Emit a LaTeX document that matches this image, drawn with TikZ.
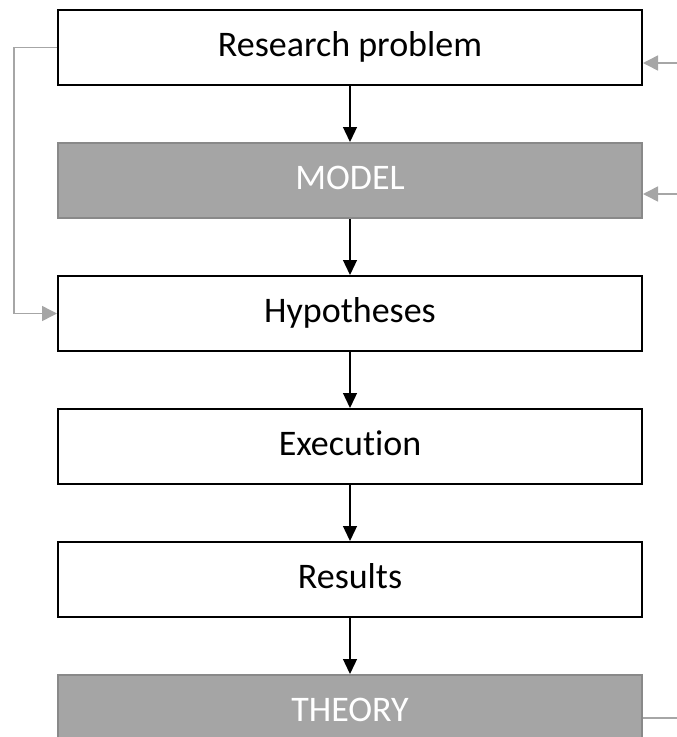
\documentclass[tikz,border=0pt]{standalone}
\usepackage{fontspec}
\setmainfont{Carlito}[Ligatures=NoCommon]
\usetikzlibrary{positioning,arrows.meta}

\definecolor{boxgray}{HTML}{A5A5A5}
\definecolor{edgegray}{HTML}{898989}
\definecolor{linegray}{HTML}{A6A6A6}

\tikzset{
  stage/.style={draw=black, line width=2pt, minimum width=584pt, minimum height=75pt,
    inner sep=0pt, text height=26pt, text depth=8pt, font=\fontsize{36}{40}\selectfont},
  stagegray/.style={stage, draw=edgegray, fill=boxgray, text=white},
  flow/.style={-{Triangle[width=14pt,length=15pt]}, line width=1.3pt},
  feedback/.style={draw=linegray, line width=1.5pt, -{Triangle[width=15pt,length=15pt]}},
  feedline/.style={draw=linegray, line width=1.5pt}
}

\begin{document}
\begin{tikzpicture}[node distance=56pt]

      % Frame
      \useasboundingbox (0pt,0pt) rectangle (677pt,-737pt);

      % Boxes
      \node[stage] (rp) at (350pt,-47.5pt) {Research problem};
      \node[stagegray, below=of rp] (model) {MODEL};
      \node[stage, below=of model] (hyp) {Hypotheses};
      \node[stage, below=of hyp] (exec) {Execution};
      \node[stage, below=of exec] (res) {Results};
      \node[stagegray, below=of res] (theory) {THEORY};

      %% Lines
      \draw[flow] (rp) -- (model);
      \draw[flow] (model) -- (hyp);
      \draw[flow] (hyp) -- (exec);
      \draw[flow] (exec) -- (res);
      \draw[flow] (res) -- (theory);

      % Feedback
      \draw[feedback] (rp.west) -- ++(-43pt,0) |- (hyp.west);

      \coordinate (inrp) at (677pt,-63pt);
      \coordinate (inmodel) at (677pt,-194pt);
      \coordinate (outtheory) at (677pt,-718pt);
      \draw[feedback] (inrp) -- (inrp -| rp.east);
      \draw[feedback] (inmodel) -- (inmodel -| model.east);
      \draw[feedline] (outtheory -| theory.east) -- (outtheory);

\end{tikzpicture}
\end{document}
